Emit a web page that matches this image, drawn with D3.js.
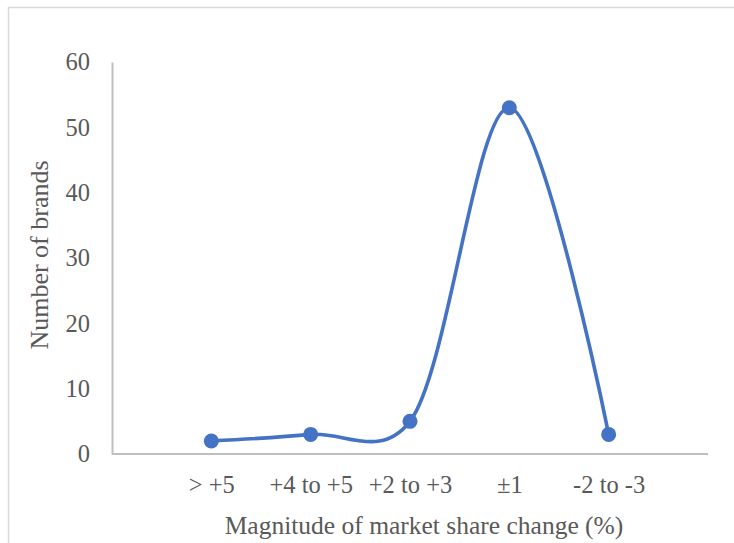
<!DOCTYPE html>
<html>
<head>
<meta charset="utf-8">
<script src="https://cdn.jsdelivr.net/npm/d3@7"></script>
<style>
  html, body { margin: 0; padding: 0; background: #fff; }
  svg { display: block; }
  text { font-family: "Liberation Serif", "Times New Roman", serif; fill: #595959; }
</style>
</head>
<body>
<svg id="chart" width="734" height="543"></svg>
<script>
// Brands grouped by how much their market share moved
const categories = ["> +5", "+4 to +5", "+2 to +3", "±1", "-2 to -3"];
const brandCounts = [2, 3, 5, 53, 3];
const yTicks = [0, 10, 20, 30, 40, 50, 60];

const svg = d3.select("#chart");
const plot = { left: 112, right: 708, top: 62, bottom: 454 };

// Chart area frame
svg.append("rect")
  .attr("x", 8.5).attr("y", 7.5)
  .attr("width", 760).attr("height", 560)
  .attr("fill", "none")
  .attr("stroke", "#d9d9d9")
  .attr("stroke-width", 1.5);

const x = d3.scalePoint()
  .domain(categories)
  .range([plot.left, plot.right])
  .padding(1);

const y = d3.scaleLinear()
  .domain([0, 60])
  .range([plot.bottom, plot.top]);

// Y axis: line plus tick labels
const yAxis = svg.append("g")
  .attr("transform", `translate(${plot.left},0)`)
  .call(d3.axisLeft(y).tickValues(yTicks).tickSize(0).tickPadding(22));
yAxis.select(".domain").attr("stroke", "#bfbfbf").attr("stroke-width", 2);
yAxis.selectAll("text")
  .attr("font-size", 24.5)
  .attr("fill", "#595959")
  .style("font-family", "'Liberation Serif', serif");

// X axis: line plus category labels
const xAxis = svg.append("g")
  .attr("transform", `translate(0,${plot.bottom})`)
  .call(d3.axisBottom(x).tickSize(0).tickPadding(22));
xAxis.select(".domain")
  .attr("d", `M${plot.left},0H${plot.right}`)
  .attr("stroke", "#bfbfbf").attr("stroke-width", 2);
xAxis.selectAll("text")
  .attr("font-size", 24.5)
  .attr("fill", "#595959")
  .style("font-family", "'Liberation Serif', serif");

// Axis titles
svg.append("text")
  .attr("x", 424)
  .attr("y", 534)
  .attr("text-anchor", "middle")
  .attr("font-size", 25.5)
  .text("Magnitude of market share change (%)");

svg.append("text")
  .attr("transform", `translate(48,255) rotate(-90)`)
  .attr("text-anchor", "middle")
  .attr("font-size", 26)
  .text("Number of brands");

// Smoothed series line and markers
const points = categories.map((c, i) => ({ c, v: brandCounts[i] }));

svg.append("path")
  .datum(points)
  .attr("fill", "none")
  .attr("stroke", "#4472c4")
  .attr("stroke-width", 3.6)
  .attr("stroke-linecap", "round")
  .attr("d", d3.line()
    .x(d => x(d.c))
    .y(d => y(d.v))
    .curve(d3.curveCatmullRom.alpha(0.2)));

svg.append("g")
  .selectAll("circle")
  .data(points)
  .join("circle")
  .attr("cx", d => x(d.c))
  .attr("cy", d => y(d.v))
  .attr("r", 7.5)
  .attr("fill", "#4472c4");
</script>
</body>
</html>
